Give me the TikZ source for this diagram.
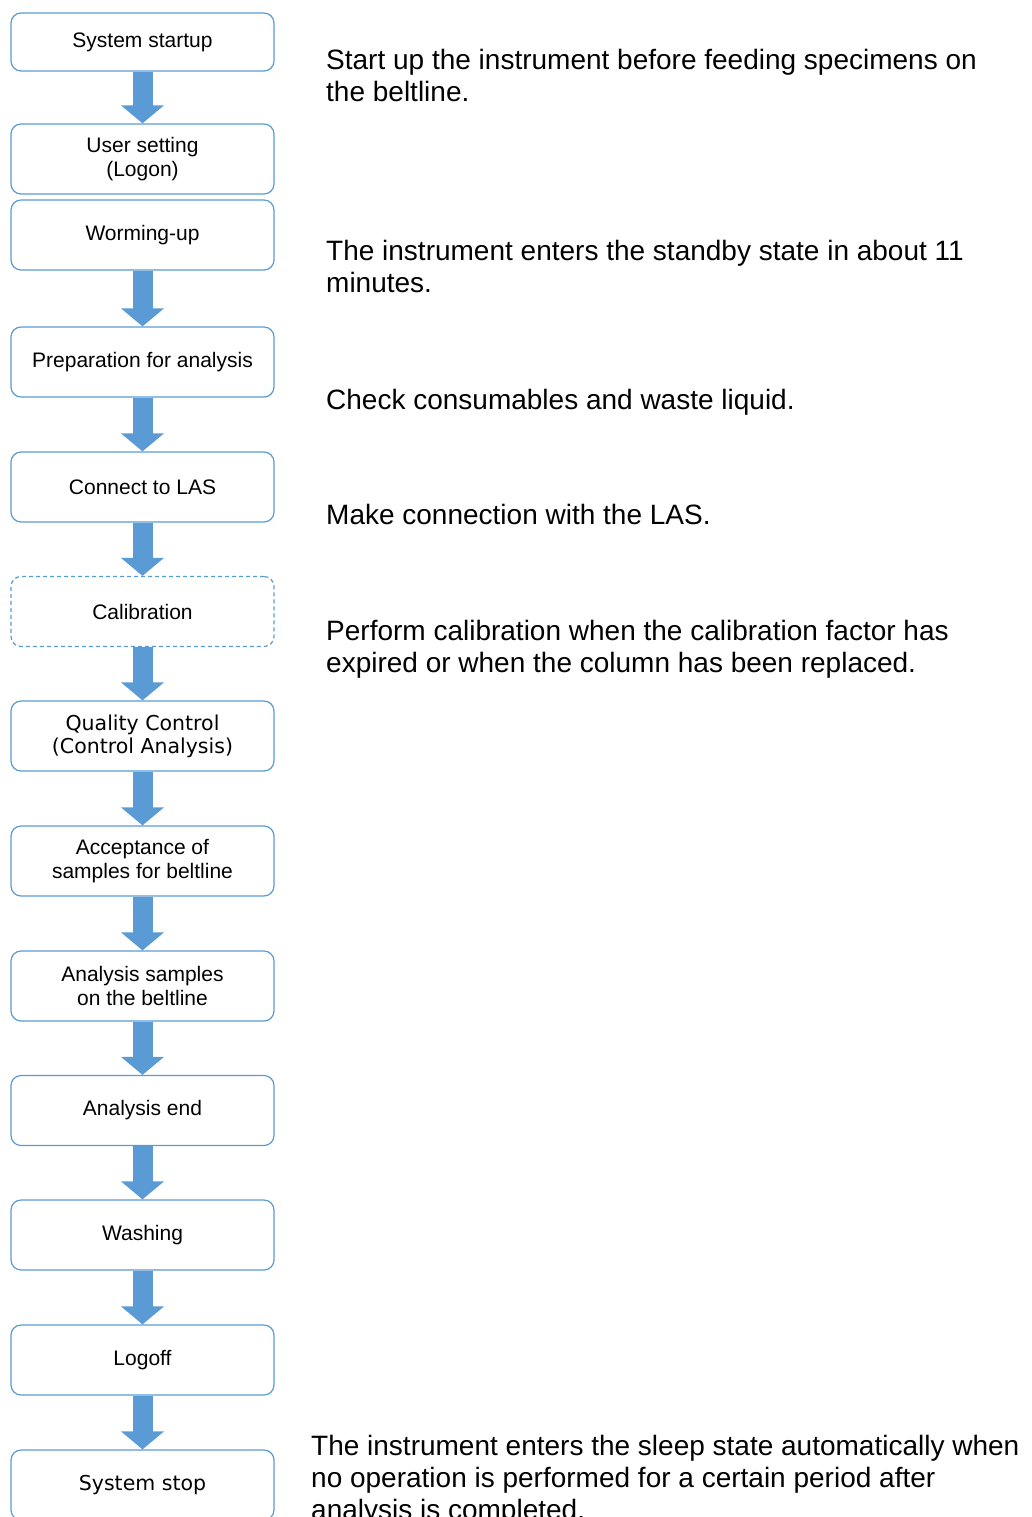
\documentclass[tikz,border=0pt]{standalone}
\usepackage{fontspec}
\setmainfont{Liberation Sans}
\newfontfamily\gothic{DejaVu Sans}
\usetikzlibrary{arrows.meta}
\definecolor{boxblue}{HTML}{5B9BD5}
\definecolor{arrblue}{HTML}{5B9BD5}
\tikzset{
  stepbox/.style={draw=boxblue, line width=1.2pt, rounded corners=10pt, fill=white,
    minimum width=263pt, minimum height=70pt, inner sep=0pt, align=center,
    font=\fontsize{21}{24.5}\selectfont},
  dashbox/.style={stepbox, dash pattern=on 4pt off 3pt},
  flowarrow/.style={draw=arrblue, line width=20pt,
    -{Triangle[length=18pt 0, width=42pt 0]}},
  note/.style={anchor=base west, align=left, inner sep=0pt,
    font=\fontsize{28}{32}\selectfont}
}
\begin{document}
\begin{tikzpicture}[x=1pt, y=-1pt]
\useasboundingbox (0,0) rectangle (1031,1517);
\node[stepbox, minimum height=58pt] (b1) at (142.5,42) {System startup};
\node[stepbox] (b2) at (142.5,159) {User setting\\(Logon)};
\node[stepbox] (b3) at (142.5,235) {Worming-up};
\node[stepbox] (b4) at (142.5,362) {Preparation for analysis};
\node[stepbox] (b5) at (142.5,487) {Connect to LAS};
\node[dashbox] (b6) at (142.5,611.5) {Calibration};
\node[stepbox, font=\gothic\fontsize{20.5}{23}\selectfont] (b7) at (142.5,736) {Quality Control\\(Control Analysis)};
\node[stepbox] (b8) at (142.5,861) {Acceptance of\\samples for beltline};
\node[stepbox] (b9) at (142.5,986) {Analysis samples\\on the beltline};
\node[stepbox] (b10) at (142.5,1110.5) {Analysis end};
\node[stepbox] (b11) at (142.5,1235) {Washing};
\node[stepbox] (b12) at (142.5,1360) {Logoff};
\node[stepbox, font=\gothic\fontsize{20.5}{23}\selectfont] (b13) at (142.5,1485) {System stop};

\draw[flowarrow] (b1.south) -- (b2.north);
\draw[flowarrow] (b3.south) -- (b4.north);
\draw[flowarrow] (b4.south) -- (b5.north);
\draw[flowarrow] (b5.south) -- (b6.north);
\draw[flowarrow] (b6.south) -- (b7.north);
\draw[flowarrow] (b7.south) -- (b8.north);
\draw[flowarrow] (b8.south) -- (b9.north);
\draw[flowarrow] (b9.south) -- (b10.north);
\draw[flowarrow] (b10.south) -- (b11.north);
\draw[flowarrow] (b11.south) -- (b12.north);
\draw[flowarrow] (b12.south) -- (b13.north);

\node[note] (t1) at (326,102) {Start up the instrument before feeding specimens on\\the beltline.};
\node[note] (t2) at (326,292) {The instrument enters the standby state in about 11\\minutes.};
\node[note] (t3) at (326,409) {Check consumables and waste liquid.};
\node[note] (t4) at (326,524) {Make connection with the LAS.};
\node[note] (t5) at (326,672) {Perform calibration when the calibration factor has\\expired or when the column has been replaced.};
\node[note] (t6) at (311,1519) {The instrument enters the sleep state automatically when\\no operation is performed for a certain period after\\analysis is completed.};
\end{tikzpicture}
\end{document}
